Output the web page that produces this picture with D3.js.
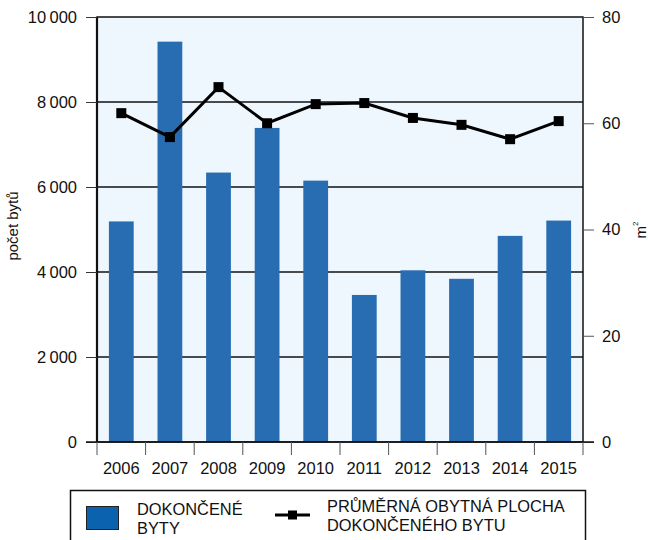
<!DOCTYPE html>
<html>
<head>
<meta charset="utf-8">
<script src="https://cdn.jsdelivr.net/npm/d3@7/dist/d3.min.js"></script>
<style>
  body { margin: 0; background: #fff; }
  svg { display: block; font-family: "Liberation Sans", Arial, sans-serif; }
</style>
</head>
<body>
<svg width="648" height="540"></svg>
<script>
const years = ['2006', '2007', '2008', '2009', '2010', '2011', '2012', '2013', '2014', '2015'];
const dwellings = [5190, 9420, 6340, 7390, 6150, 3460, 4040, 3840, 4850, 5210];
const avgArea = [61.9, 57.4, 66.8, 60.0, 63.6, 63.8, 61.0, 59.7, 57.0, 60.4];
const leftTicks = [0, 2000, 4000, 6000, 8000, 10000];
const rightTicks = [0, 20, 40, 60, 80];

const svg = d3.select('svg'),
    margin = {top: 17, right: 65, bottom: 98, left: 97},
    width = 648 - margin.left - margin.right,
    height = 540 - margin.top - margin.bottom;

const locale = d3.formatLocale({decimal: ',', thousands: '\u2009', grouping: [3], currency: ['', '']});
const fmt = locale.format(',d');

const x = d3.scaleBand().domain(years).range([0, width]).paddingInner(0.49).paddingOuter(0.245);
const xb = d3.scaleBand().domain(years).range([0, width]);
const y = d3.scaleLinear().domain([0, 10000]).range([height, 0]);
const y2 = d3.scaleLinear().domain([0, 80]).range([height, 0]);

const g = svg.append('g')
    .attr('transform', 'translate(' + margin.left + ',' + margin.top + ')');

g.append('rect')
    .attr('width', width)
    .attr('height', height)
    .attr('fill', '#eff7fe');

// gridlines
g.append('g')
  .selectAll('line').data(leftTicks.filter(d => d > 0 && d < 10000)).enter().append('line')
    .attr('x1', 0).attr('x2', width)
    .attr('y1', d => y(d)).attr('y2', d => y(d))
    .attr('stroke', '#111').attr('stroke-width', 1.5);

// bars
g.append('g')
  .selectAll('rect').data(dwellings).enter().append('rect')
    .attr('x', (d, i) => x(years[i]))
    .attr('y', d => y(d))
    .attr('width', x.bandwidth())
    .attr('height', d => height - y(d))
    .attr('fill', '#286cb2');

// frame
g.append('rect')
    .attr('width', width)
    .attr('height', height)
    .attr('fill', 'none')
    .attr('stroke', '#111')
    .attr('stroke-width', 1.5);
g.append('line')
    .attr('x1', 0).attr('x2', 0).attr('y1', 0).attr('y2', height)
    .attr('stroke', '#111').attr('stroke-width', 2.2);

// left axis
const yAxis = g.append('g')
    .call(d3.axisLeft(y).tickValues(leftTicks).tickFormat(fmt).tickSize(11).tickPadding(9));
yAxis.select('.domain').remove();
yAxis.selectAll('.tick line').attr('stroke', '#333').attr('stroke-width', 1);
yAxis.selectAll('text').attr('font-size', 16.5).attr('fill', '#111').attr('font-family', null);

// right axis
const y2Axis = g.append('g')
    .attr('transform', 'translate(' + width + ',0)')
    .call(d3.axisRight(y2).tickValues(rightTicks).tickSize(11).tickPadding(8));
y2Axis.select('.domain').remove();
y2Axis.selectAll('.tick line').attr('stroke', '#555').attr('stroke-width', 1);
y2Axis.selectAll('text').attr('font-size', 16.5).attr('fill', '#111').attr('font-family', null);

// bottom axis
const xAxis = g.append('g')
    .attr('transform', 'translate(0,' + height + ')');
xAxis.append('line')
    .attr('x1', -11).attr('x2', width + 11)
    .attr('stroke', '#111').attr('stroke-width', 1.5);
xAxis.selectAll('line.sep').data(years.concat(['end'])).enter().append('line')
    .attr('class', 'sep')
    .attr('x1', (d, i) => i < years.length ? xb(d) : width)
    .attr('x2', (d, i) => i < years.length ? xb(d) : width)
    .attr('y1', 0).attr('y2', 13)
    .attr('stroke', '#555').attr('stroke-width', 1);
xAxis.selectAll('text').data(years).enter().append('text')
    .attr('x', d => xb(d) + xb.bandwidth() / 2)
    .attr('y', 32)
    .attr('text-anchor', 'middle')
    .attr('font-size', 16.5)
    .attr('fill', '#111')
    .text(d => d);

// line
const line = d3.line()
    .x((d, i) => xb(years[i]) + xb.bandwidth() / 2)
    .y(d => y2(d));
g.append('path')
    .datum(avgArea)
    .attr('d', line)
    .attr('fill', 'none')
    .attr('stroke', '#000')
    .attr('stroke-width', 3);
g.append('g')
  .selectAll('rect').data(avgArea).enter().append('rect')
    .attr('x', (d, i) => xb(years[i]) + xb.bandwidth() / 2 - 5)
    .attr('y', d => y2(d) - 5)
    .attr('width', 10).attr('height', 10)
    .attr('fill', '#000');

// axis titles
svg.append('text')
    .attr('transform', 'translate(18,226) rotate(-90)')
    .attr('text-anchor', 'middle')
    .attr('font-size', 15)
    .attr('fill', '#111')
    .text('počet bytů');
const m2 = svg.append('text')
    .attr('transform', 'translate(646,230) rotate(-90)')
    .attr('text-anchor', 'middle')
    .attr('font-size', 15)
    .attr('fill', '#111');
m2.append('tspan').text('m');
m2.append('tspan').attr('font-size', 8).attr('dy', -8).text('2');

// legend
const lg = svg.append('g');
lg.append('rect')
    .attr('x', 70.5).attr('y', 490.5)
    .attr('width', 515).attr('height', 60)
    .attr('fill', '#fff')
    .attr('stroke', '#111').attr('stroke-width', 1.5);
lg.append('rect')
    .attr('x', 86.5).attr('y', 506.5)
    .attr('width', 32).attr('height', 23)
    .attr('fill', '#0b63b0')
    .attr('stroke', '#222').attr('stroke-width', 1);
const t1 = lg.append('text').attr('x', 137).attr('font-size', 16.4).attr('fill', '#111');
t1.append('tspan').attr('y', 515).text('DOKONČENÉ');
t1.append('tspan').attr('x', 137).attr('y', 534).text('BYTY');
lg.append('line')
    .attr('x1', 275).attr('x2', 310).attr('y1', 515).attr('y2', 515)
    .attr('stroke', '#000').attr('stroke-width', 3);
lg.append('rect')
    .attr('x', 288).attr('y', 510.5).attr('width', 9).attr('height', 9)
    .attr('fill', '#000');
const t2 = lg.append('text').attr('x', 327).attr('font-size', 16.4).attr('fill', '#111');
t2.append('tspan').attr('y', 512).text('PRŮMĚRNÁ OBYTNÁ PLOCHA');
t2.append('tspan').attr('x', 327).attr('y', 531).text('DOKONČENÉHO BYTU');
</script>
</body>
</html>
